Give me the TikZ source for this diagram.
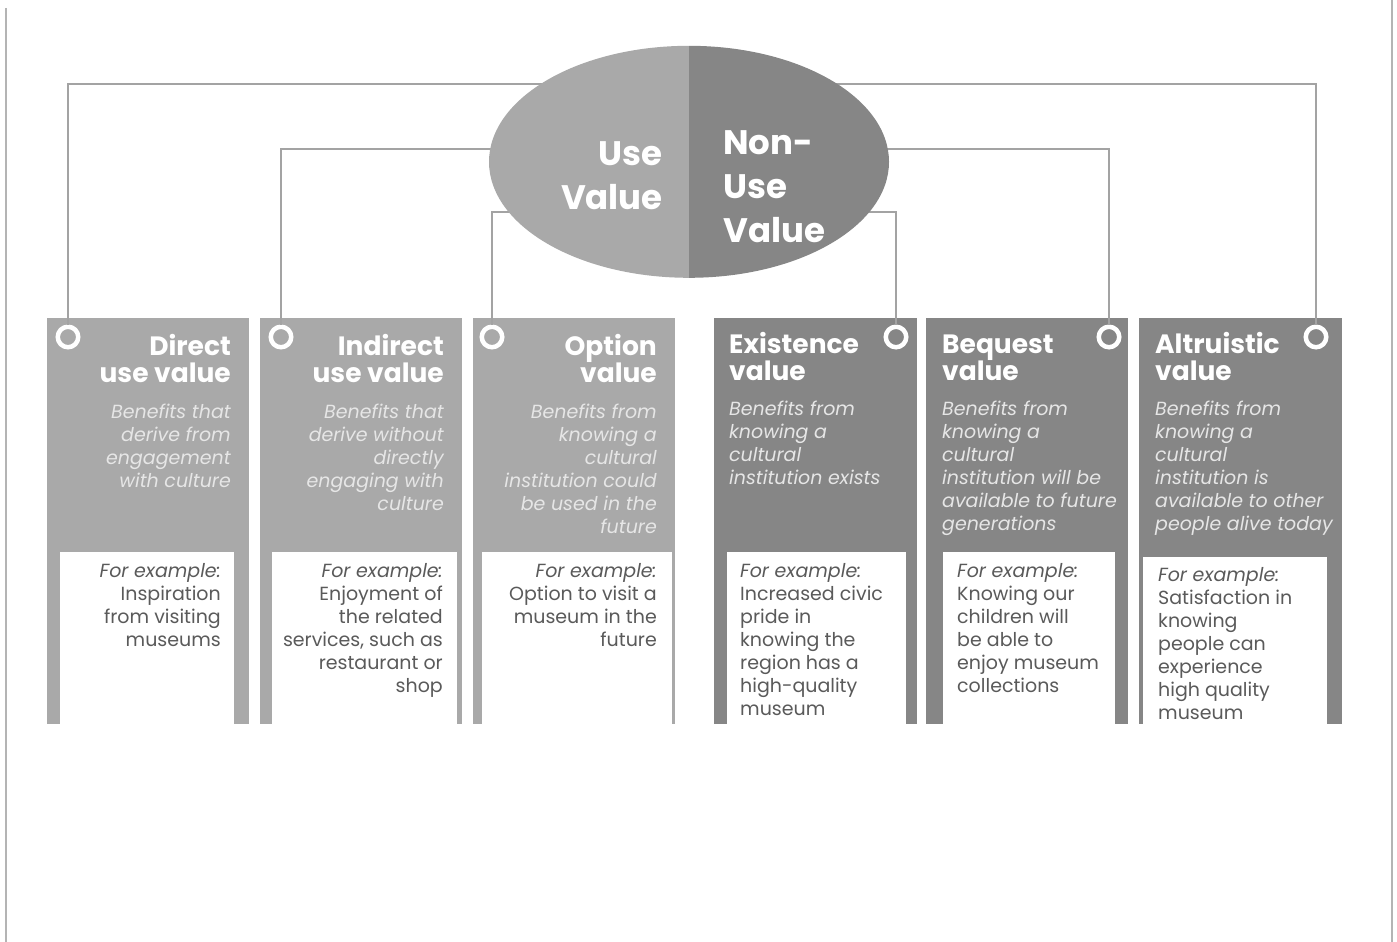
\documentclass[tikz,border=0pt]{standalone}
\usepackage{fontspec}
\setmainfont{Poppins}
\usetikzlibrary{shapes.geometric}
\definecolor{lg}{HTML}{A9A9A9}
\definecolor{dg}{HTML}{868686}
\definecolor{ln}{HTML}{A3A3A3}
\definecolor{dtxt}{HTML}{E6E6E6}
\definecolor{extxt}{HTML}{5A5A5A}
\definecolor{edge}{HTML}{B4B4B4}
\begin{document}
\begin{tikzpicture}[x=1pt,y=-1pt,
  colbox/.style={draw=none, anchor=north west, inner sep=0, minimum height=406pt},
  wbox/.style={fill=white, draw=none, anchor=north west, inner sep=0},
  ring/.style={circle, draw=white, line width=4.5pt, minimum size=20.5pt, inner sep=0},
  conn/.style={draw=ln, line width=2pt},
  ttl/.style={font=\bfseries\fontsize{26.5}{27}\selectfont, text=white, inner sep=0},
  dsc/.style={font=\itshape\fontsize{19}{23}\selectfont, text=dtxt, inner sep=0},
  exm/.style={font=\fontsize{19}{23}\selectfont, text=extxt, inner sep=0},
  big/.style={font=\bfseries\fontsize{34}{44}\selectfont, text=white, inner sep=0},
  R/.style={align=right, anchor=base east},
  L/.style={align=left, anchor=base west}]
\useasboundingbox (0,0) rectangle (1397,942);
% page edges
\draw[edge, line width=2pt] (6,8) -- (6,942);
\draw[edge, line width=2pt] (1392,0) -- (1392,942);

% column boxes
\node[colbox, fill=lg, minimum width=202pt] (b1) at (47,318) {};
\node[colbox, fill=lg, minimum width=202pt] (b2) at (260,318) {};
\node[colbox, fill=lg, minimum width=202pt] (b3) at (473,318) {};
\node[colbox, fill=dg, minimum width=203pt] (b4) at (714,318) {};
\node[colbox, fill=dg, minimum width=202pt] (b5) at (926,318) {};
\node[colbox, fill=dg, minimum width=203pt] (b6) at (1139,318) {};

% white example boxes
\node[wbox, minimum width=174pt, minimum height=172pt] (w1) at (60,552) {};
\node[wbox, minimum width=185pt, minimum height=172pt] (w2) at (272,552) {};
\node[wbox, minimum width=190pt, minimum height=172pt] (w3) at (482,552) {};
\node[wbox, minimum width=179pt, minimum height=172pt] (w4) at (727,552) {};
\node[wbox, minimum width=172pt, minimum height=172pt] (w5) at (943,552) {};
\node[wbox, minimum width=184pt, minimum height=167pt] (w6) at (1143,557) {};

% titles (anchor = baseline of last line)
\node[ttl, R] (t1) at (231,382) {Direct\\use value};
\node[ttl, R] (t2) at (444,382) {Indirect\\use value};
\node[ttl, R] (t3) at (657,382) {Option\\value};
\node[ttl, L] (t4) at (729,380) {Existence\\value};
\node[ttl, L] (t5) at (942,380) {Bequest\\value};
\node[ttl, L] (t6) at (1155,380) {Altruistic\\value};

% descriptions
\node[dsc, R] (d1) at (231,487) {Benefits that\\derive from\\engagement\\with culture};
\node[dsc, R] (d2) at (444,510) {Benefits that\\derive without\\directly\\engaging with\\culture};
\node[dsc, R] (d3) at (657,533) {Benefits from\\knowing a\\cultural\\institution could\\be used in the\\future};
\node[dsc, L] (d4) at (729,484) {Benefits from\\knowing a\\cultural\\institution exists};
\node[dsc, L] (d5) at (942,530) {Benefits from\\knowing a\\cultural\\institution will be\\available to future\\generations};
\node[dsc, L] (d6) at (1155,530) {Benefits from\\knowing a\\cultural\\institution is\\available to other\\people alive today};

% examples
\node[exm, R] (e1) at (221,646) {\textit{For example:}\\Inspiration\\from visiting\\museums};
\node[exm, R] (e2) at (443,692) {\textit{For example:}\\Enjoyment of\\the related\\services, such as\\restaurant or\\shop};
\node[exm, R] (e3) at (657,646) {\textit{For example:}\\Option to visit a\\museum in the\\future};
\node[exm, L] (e4) at (740,715) {\textit{For example:}\\Increased civic\\pride in\\knowing the\\region has a\\high-quality\\museum};
\node[exm, L] (e5) at (957,692) {\textit{For example:}\\Knowing our\\children will\\be able to\\enjoy museum\\collections};
\node[exm, L] (e6) at (1158,719) {\textit{For example:}\\Satisfaction in\\knowing\\people can\\experience\\high quality\\museum};

% rings
\node[ring, fill=lg] (c1) at (68,337) {};
\node[ring, fill=lg] (c2) at (281,337) {};
\node[ring, fill=lg] (c3) at (492,337) {};
\node[ring, fill=dg] (c4) at (896,337) {};
\node[ring, fill=dg] (c5) at (1109,337) {};
\node[ring, fill=dg] (c6) at (1316,337) {};

% central ellipse (anchor node)
\node[ellipse, minimum width=400pt, minimum height=232pt, inner sep=0, draw=none] (ev) at (689,162) {};
\coordinate (h1) at (0,84);
\coordinate (h2) at (0,149);
\coordinate (h3) at (0,212);

% connectors
\draw[conn] (ev.center |- h1) -| (c1.north);
\draw[conn] (ev.center |- h1) -| (c6.north);
\draw[conn] (ev.center |- h2) -| (c2.north);
\draw[conn] (ev.center |- h2) -| (c5.north);
\draw[conn] (ev.center |- h3) -| (c3.north);
\draw[conn] (ev.center |- h3) -| (c4.north);

% ellipse halves
\fill[lg] (ev.north) arc[start angle=270, end angle=90, x radius=200, y radius=116] -- cycle;
\fill[dg] (ev.north) arc[start angle=-90, end angle=90, x radius=200, y radius=116] -- cycle;

\node[big, R] (uv) at (663,209) {Use\\Value};
\node[big, L] (nuv) at (723,242) {Non-\\Use\\Value};
\end{tikzpicture}
\end{document}
